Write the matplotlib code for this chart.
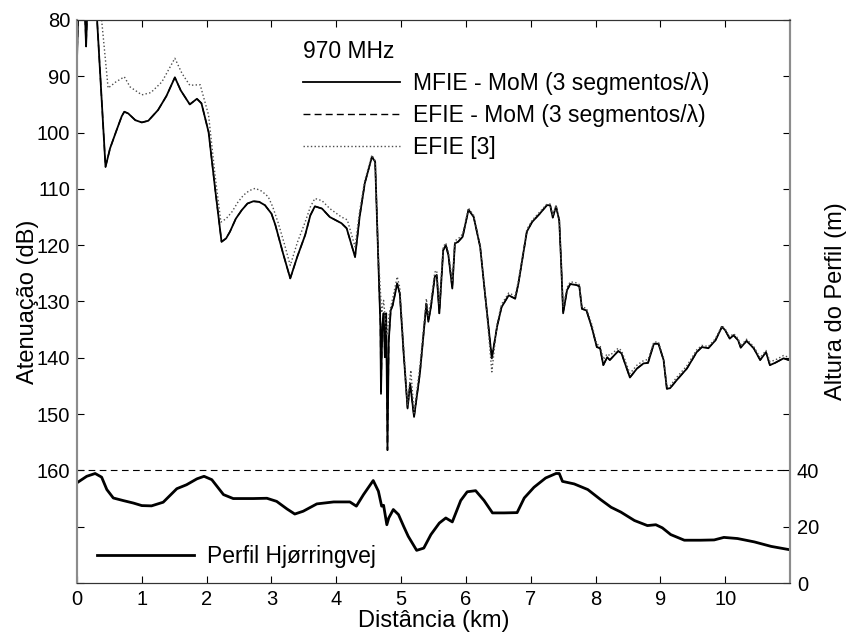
import matplotlib
matplotlib.use("Agg")
import matplotlib.pyplot as plt

plt.rcParams['font.family'] = ['Liberation Sans', 'DejaVu Sans']
plt.rcParams['font.size'] = 14.5

# attenuation curves, distance in km, attenuation in dB
mfie_x = [0.0, 0.02, 0.12, 0.14, 0.16, 0.30, 0.31, 0.44, 0.51, 0.61, 0.69, 0.73, 0.79, 0.9,
          1.0, 1.1, 1.25, 1.38, 1.51, 1.6, 1.74, 1.85, 1.92, 2.03, 2.13, 2.23, 2.30, 2.36, 2.45, 2.54,
          2.63, 2.72, 2.81, 2.9, 3.0, 3.06, 3.18, 3.29, 3.4, 3.52, 3.6, 3.67, 3.78, 3.9, 4.08, 4.16,
          4.29, 4.36, 4.44, 4.55,
          4.60, 4.65, 4.68, 4.69, 4.71, 4.73, 4.75, 4.77, 4.79, 4.81, 4.84, 4.87, 4.94, 4.98,
          5.04, 5.10, 5.14, 5.20, 5.29, 5.39, 5.42, 5.46, 5.52, 5.55, 5.59, 5.65, 5.69, 5.73,
          5.79, 5.83, 5.88, 5.95, 6.04, 6.12, 6.22, 6.30, 6.40, 6.48, 6.55, 6.66, 6.76, 6.81,
          6.94, 7.02, 7.14, 7.25, 7.30, 7.34, 7.39, 7.44, 7.47, 7.50, 7.56, 7.61, 7.71, 7.75,
          7.79, 7.86, 7.94, 8.02, 8.07, 8.12, 8.18, 8.22, 8.35, 8.40, 8.53, 8.64, 8.74, 8.81,
          8.90, 8.97, 9.05, 9.10, 9.15, 9.25, 9.41, 9.56, 9.64, 9.74, 9.85, 9.95, 10.00, 10.07,
          10.13, 10.20, 10.24, 10.33, 10.44, 10.54, 10.63, 10.69, 10.77, 10.90, 10.98]
mfie_db = [87.0, 78.0, 78.0, 84.7, 78.0, 78.0, 80.0, 106.1, 102.8, 99.6, 97.1, 96.3, 96.6, 97.8,
           98.2, 97.9, 96.0, 93.5, 90.2, 92.5, 95.0, 94.0, 94.8, 99.9, 109.9, 119.4, 118.8, 117.6, 115.3, 113.8,
           112.6, 112.2, 112.3, 112.9, 114.4, 116.4, 121.5, 125.9, 122.0, 118.2, 114.7, 113.1, 113.5, 115.0, 116.1, 117.0,
           122.1, 115.0, 109.0, 104.3,
           105.2, 123.3, 133.9, 146.4, 134.5, 132.1, 139.9, 132.1, 156.4, 136.9, 131.6, 130.7, 126.8, 128.6,
           139.3, 149.0, 144.6, 150.5, 142.8, 130.4, 133.6, 131.0, 125.6, 125.3, 132.1, 120.9, 120.0, 121.8,
           127.7, 119.7, 119.4, 118.5, 113.7, 115.0, 120.3, 129.2, 140.1, 134.5, 131.0, 128.9, 129.5, 126.8,
           117.6, 115.9, 114.4, 112.9, 112.9, 115.1, 113.1, 115.6, 123.3, 132.1, 128.0, 126.9, 127.1, 127.3,
           131.3, 131.6, 134.5, 138.1, 138.3, 141.3, 139.9, 140.4, 138.8, 139.2, 143.5, 141.9, 141.0, 140.9,
           137.5, 137.5, 140.4, 145.5, 145.4, 144.0, 141.9, 139.0, 138.1, 138.3, 136.9, 134.5, 135.1, 136.6,
           136.0, 136.9, 138.2, 137.0, 138.3, 140.4, 139.0, 141.3, 140.9, 140.1, 140.4]

# EFIE - MoM lies on top of the MFIE curve
efie_x = list(mfie_x)
efie_db = list(mfie_db)

ref_x = [0.0, 0.33, 0.38, 0.48, 0.60, 0.73, 0.82, 1.0, 1.14, 1.31, 1.51, 1.62, 1.74, 1.90,
         2.03, 2.13, 2.22, 2.30, 2.39, 2.48, 2.57, 2.66, 2.75, 2.85, 2.95, 3.02, 3.10, 3.20, 3.29,
         3.40, 3.52, 3.60, 3.67, 3.78, 3.9, 4.08,
         4.17, 4.29, 4.36, 4.44, 4.55, 4.60, 4.65, 4.70, 4.73, 4.78, 4.82, 4.87, 4.94, 4.98, 5.04,
         5.10, 5.15, 5.20, 5.29, 5.39, 5.42, 5.46, 5.52, 5.55, 5.59, 5.65, 5.69, 5.73, 5.79,
         5.83, 5.88, 5.95, 6.04, 6.12, 6.22, 6.30, 6.40, 6.48, 6.55, 6.66, 6.76, 6.81, 6.94,
         7.02, 7.14, 7.25, 7.30, 7.34, 7.39, 7.44, 7.47, 7.50, 7.56, 7.61, 7.71, 7.75, 7.79,
         7.86, 7.94, 8.02, 8.07, 8.12, 8.18, 8.22, 8.35, 8.40, 8.53, 8.64, 8.74, 8.81, 8.90,
         8.97, 9.05, 9.10, 9.15, 9.25, 9.41, 9.56, 9.64, 9.74, 9.85, 9.95, 10.00, 10.07, 10.13,
         10.20, 10.24, 10.33, 10.44, 10.54, 10.63, 10.69, 10.77, 10.90, 10.98]
ref_db = [78.0, 78.0, 80.0, 92.1, 91.0, 90.1, 91.9, 93.3, 92.9, 91.0, 86.8, 89.5, 91.6, 91.5,
          96.9, 107.6, 115.9, 115.3, 114.1, 112.4, 111.1, 110.3, 109.9, 110.4, 111.4, 113.2, 115.9, 119.8, 123.6,
          119.5, 115.9, 113.2, 111.7, 112.1, 113.5, 115.0,
          115.5, 120.3, 114.0, 108.5, 104.0, 105.0, 122.0, 132.0, 129.8, 136.0, 132.0, 129.5, 125.6, 127.5, 138.0,
          148.5, 142.2, 149.8, 141.5, 129.5, 132.5, 130.0, 124.8, 124.5, 130.5, 120.3, 119.6, 121.2, 126.5,
          119.2, 118.9, 118.0, 113.4, 114.7, 120.0, 129.0, 142.5, 134.0, 130.5, 128.5, 129.0, 126.3, 117.2,
          115.6, 114.1, 112.7, 112.7, 114.8, 112.9, 115.3, 123.0, 131.0, 127.5, 126.5, 126.7, 127.0, 131.0,
          131.2, 134.0, 137.6, 137.8, 140.3, 139.3, 139.6, 138.3, 138.7, 142.8, 141.3, 140.5, 140.3, 137.2,
          137.2, 140.0, 145.0, 145.0, 143.5, 141.4, 138.6, 137.8, 138.0, 136.6, 134.3, 134.9, 136.3, 135.7,
          136.6, 137.9, 136.7, 138.0, 140.0, 138.7, 140.7, 140.4, 139.6, 139.9]

# terrain profile, height in m
prof_x = [0.0, 0.15, 0.28, 0.38, 0.46, 0.56, 0.71, 0.87, 1.0, 1.15, 1.33, 1.54, 1.69, 1.85,
          1.96, 2.08, 2.26, 2.41, 2.72, 2.93, 3.08, 3.24, 3.36, 3.49, 3.70, 3.96, 4.21, 4.31,
          4.42, 4.57, 4.65, 4.70, 4.73, 4.78, 4.81, 4.88, 4.96, 5.04, 5.11, 5.24, 5.35, 5.46,
          5.59, 5.69, 5.79, 5.92, 6.02, 6.15, 6.28, 6.41, 6.59, 6.79, 6.90, 7.05, 7.23, 7.39,
          7.44, 7.49, 7.67, 7.88, 8.08, 8.24, 8.39, 8.60, 8.80, 8.93, 9.03, 9.16, 9.37, 9.62,
          9.83, 9.98, 10.19, 10.45, 10.71, 11.0]
prof_h = [35.6, 37.9, 38.9, 37.6, 33.2, 30.2, 29.3, 28.4, 27.5, 27.4, 28.7, 33.5, 34.9, 37.0,
          37.9, 36.7, 31.4, 30.0, 30.0, 30.1, 29.0, 26.3, 24.5, 25.5, 28.1, 28.8, 28.8, 27.3,
          31.4, 36.4, 32.6, 27.3, 27.6, 20.7, 23.1, 26.1, 24.3, 20.1, 16.6, 11.6, 12.4, 17.2,
          21.3, 23.1, 21.7, 29.3, 32.4, 32.8, 29.3, 24.9, 24.9, 25.0, 30.2, 34.0, 37.3, 38.9,
          38.9, 36.1, 35.2, 33.2, 29.6, 26.9, 25.2, 22.2, 20.4, 20.7, 19.6, 17.2, 15.2, 15.2,
          15.3, 16.2, 15.8, 14.6, 13.0, 11.8]

db_ticks = list(range(80, 190, 10))
h_ticks = list(range(0, 220, 20))

fig = plt.figure(figsize=(8.48, 6.38), dpi=100)
ax = fig.add_axes([0.0908, 0.0862, 0.8408, 0.8825])

ax.plot(mfie_x, mfie_db, color='k', lw=1.3, label='MFIE - MoM (3 segmentos/λ)')
ax.plot(efie_x, efie_db, color='k', lw=1.0, dashes=(5, 3), label='EFIE - MoM (3 segmentos/λ)')
ax.plot(ref_x, ref_db, color='0.3', lw=1.0, ls=':', label='EFIE [3]')
ax.axhline(160, color='k', lw=0.8, dashes=(6, 4))

ax.set_xlim(0, 11)
ax.set_ylim(180, 80)
ax.set_xticks(range(0, 11))
ax.set_yticks(db_ticks)
ax.set_yticklabels([str(t) if t <= 160 else '' for t in db_ticks])
ax.tick_params(direction='in', top=True, right=False, length=5, width=0.8, pad=5)
ax.set_xlabel('Distância (km)', fontsize=17, labelpad=1)
ax.set_ylabel('Atenuação (dB)', fontsize=17, labelpad=-1.5)

ax2 = ax.twinx()
ax2.plot(prof_x, prof_h, color='k', lw=2.0, label='Perfil Hjørringvej')
ax2.set_ylim(0, 200)
ax2.set_yticks(h_ticks)
ax2.set_yticklabels([str(t) if t <= 40 else '' for t in h_ticks])
ax2.tick_params(direction='in', length=5, width=0.8, pad=5)
ax2.set_ylabel('Altura do Perfil (m)', fontsize=17, labelpad=4)

for a in (ax, ax2):
    for side in ('top', 'bottom'):
        a.spines[side].set_color('0.2')
        a.spines[side].set_linewidth(0.8)
    for side in ('left', 'right'):
        a.spines[side].set_color('0.55')
        a.spines[side].set_linewidth(1.5)

leg = ax.legend(loc='upper left', bbox_to_anchor=(0.317, 0.965), frameon=False,
                fontsize=16.5, title='970 MHz', title_fontsize=16.5, alignment='left',
                handlelength=4.25, handletextpad=0.57, labelspacing=0.4,
                borderpad=0, borderaxespad=0)

leg2 = ax2.legend(loc='lower left', bbox_to_anchor=(0.028, 0.027), frameon=False,
                  fontsize=16.5, handlelength=4.25, handletextpad=0.57,
                  borderpad=0, borderaxespad=0)

fig.savefig('out.png', dpi=100)
